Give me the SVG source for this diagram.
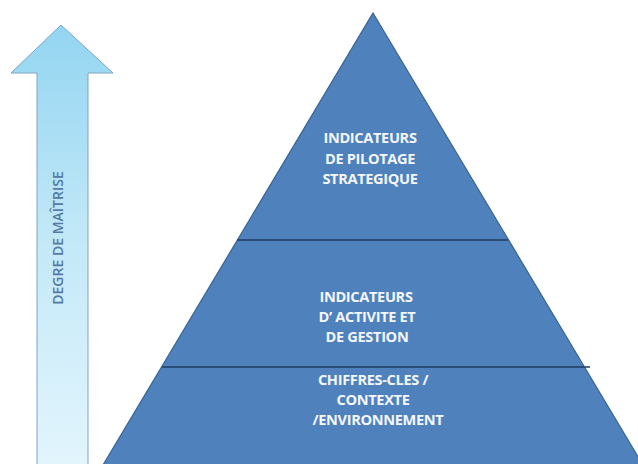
<svg xmlns="http://www.w3.org/2000/svg" width="638" height="464" viewBox="0 0 638 464">
  <defs>
    <linearGradient id="arrowFill" x1="0" y1="0" x2="0" y2="1">
      <stop offset="0" stop-color="#93D5F1"/>
      <stop offset="0.5" stop-color="#C4E9F8"/>
      <stop offset="1" stop-color="#E3F5FD"/>
    </linearGradient>
    <style>
      .tier { fill: #4F81BD; }
      .edge { fill: none; stroke: #3A6494; stroke-width: 1.2; }
      .sep { stroke: #1F3B60; stroke-width: 1.3; }
      .label { font-family: "Open Sans", "Liberation Sans", Arial, sans-serif; font-weight: bold; font-size: 14.6px; fill: #F4F7FB; text-anchor: middle; letter-spacing: -0.35px; }
      .axis { font-family: "Open Sans", "Liberation Sans", sans-serif; font-weight: 600; font-size: 14px; fill: #557AA6; text-anchor: middle; letter-spacing: 0px; }
    </style>
  </defs>

  <!-- upward arrow: degree of mastery -->
  <g id="arrow">
    <polygon points="61,25 113,73 88,73 88,470 37,470 37,73 11,73" fill="url(#arrowFill)" stroke="#7FA3C4" stroke-width="1"/>
    <text class="axis" transform="translate(63,238) rotate(-90)">DEGRE DE MAÎTRISE</text>
  </g>

  <!-- pyramid body -->
  <g id="pyramid">
    <polygon class="tier" points="373,13 646,470 100,470"/>
    <polygon class="edge" points="373,13 646,470 100,470"/>
  </g>

  <!-- tier separators -->
  <g id="connectors">
    <line class="sep" x1="237" y1="240" x2="508" y2="240"/>
    <line class="sep" x1="162" y1="367" x2="590" y2="367"/>
  </g>

  <g id="tier-top">
    <text class="label" x="370" y="143">INDICATEURS</text>
    <text class="label" x="370" y="163.5">DE PILOTAGE</text>
    <text class="label" x="370" y="184">STRATEGIQUE</text>
  </g>

  <g id="tier-middle">
    <text class="label" x="366" y="301.5">INDICATEURS</text>
    <text class="label" x="367" y="321.5">D’ ACTIVITE ET</text>
    <text class="label" x="367" y="341.5">DE GESTION</text>
  </g>

  <g id="tier-base">
    <text class="label" x="373" y="384.5">CHIFFRES-CLES /</text>
    <text class="label" x="373" y="404.5">CONTEXTE</text>
    <text class="label" x="378" y="424.5">/ENVIRONNEMENT</text>
  </g>
</svg>
